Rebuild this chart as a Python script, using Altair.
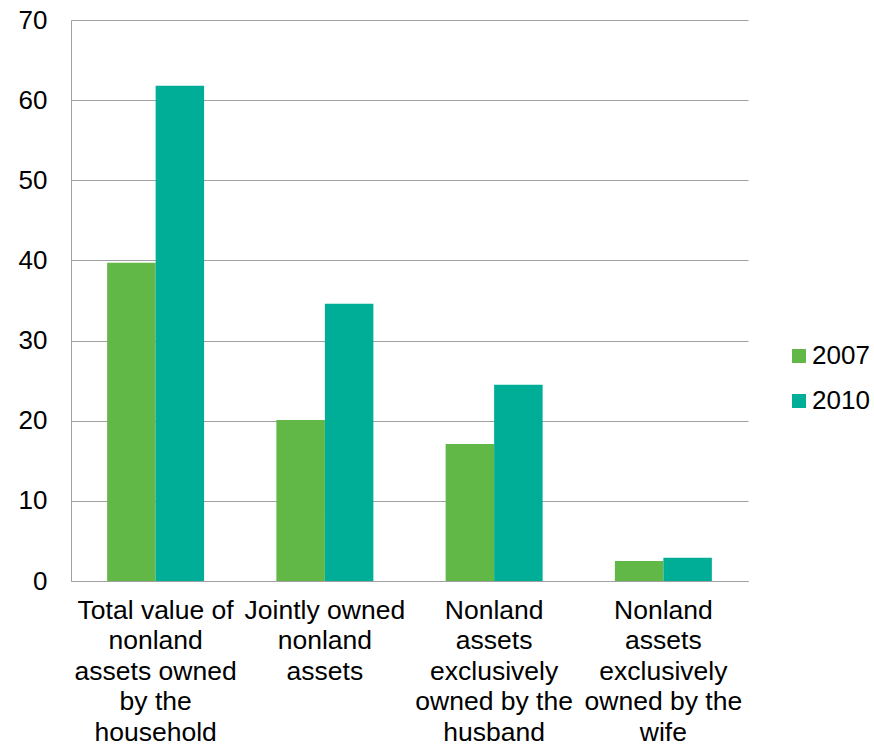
import altair as alt
import pandas as pd

categories = [
    "Total value of|nonland|assets owned|by the|household",
    "Jointly owned|nonland|assets",
    "Nonland|assets|exclusively|owned by the|husband",
    "Nonland|assets|exclusively|owned by the|wife",
]
years = ["2007", "2010"]
values_2007 = [39.7, 20.1, 17.1, 2.5]
values_2010 = [61.8, 34.6, 24.5, 2.9]
colors = ["#62B846", "#00AE98"]

rows = []
for c, a, b in zip(categories, values_2007, values_2010):
    rows.append({"category": c, "year": "2007", "value": a})
    rows.append({"category": c, "year": "2010", "value": b})
df = pd.DataFrame(rows)

FONT = "Liberation Sans"
GRID = "#A0A0A0"

chart = alt.Chart(df).mark_bar().encode(
    x=alt.X(
        "category:N",
        sort=categories,
        scale=alt.Scale(paddingInner=0.427, paddingOuter=0.2135),
        axis=alt.Axis(
            title=None, labelAngle=0, labelExpr="split(datum.label, '|')",
            labelFontSize=26.5, labelLineHeight=30.6, labelPadding=16,
            ticks=False, domainColor=GRID, labelColor="black", labelFont=FONT,
            labelLimit=0, grid=False,
        ),
    ),
    xOffset=alt.XOffset("year:N", sort=years),
    y=alt.Y(
        "value:Q",
        scale=alt.Scale(domain=[0, 70], nice=False),
        axis=alt.Axis(
            values=[0, 10, 20, 30, 40, 50, 60, 70], title=None, ticks=False,
            labelFontSize=26, labelFont=FONT, labelColor="black", labelPadding=24,
            gridColor=GRID, domainColor=GRID, gridWidth=1,
        ),
    ),
    color=alt.Color(
        "year:N",
        scale=alt.Scale(domain=years, range=colors),
        legend=alt.Legend(
            title=None, orient="none", legendX=715, legendY=323,
            symbolType="square", symbolSize=196, symbolStrokeWidth=0,
            labelFontSize=26, labelFont=FONT, labelColor="black",
            rowPadding=19, padding=0, labelOffset=0,
        ),
    ),
).properties(
    width=677, height=561,
    autosize=alt.AutoSizeParams(type="none"),
    padding={"left": 71, "top": 20, "right": 126, "bottom": 167},
).configure_view(stroke=None)

chart.save("out.html", embed_options={"renderer": "svg", "actions": False})
